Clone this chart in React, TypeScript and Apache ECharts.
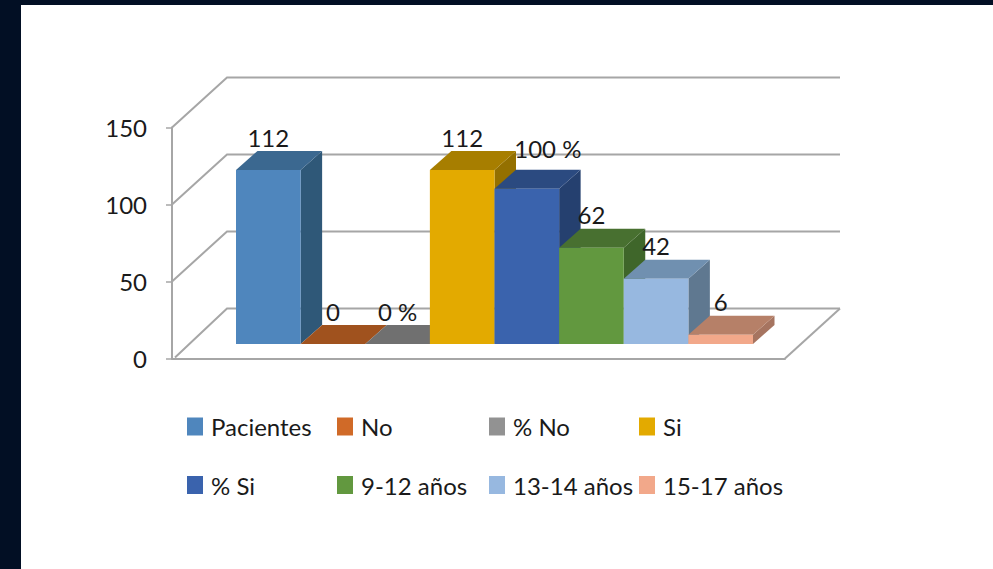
import React, { useEffect, useRef } from "react";
import * as echarts from "echarts";

const seriesNames = ["Pacientes", "No", "% No", "Si", "% Si", "9-12 años", "13-14 años", "15-17 años"];
const seriesValues = [112, 0, 0, 112, 100, 62, 42, 6];
const valueLabels = ["112", "0", "0 %", "112", "100 %", "62", "42", "6"];
const frontColors = ["#4F86BD", "#D06A28", "#929292", "#E3AA00", "#3A63AD", "#62983F", "#97B8E0", "#F2A88A"];
const topColors = ["#3B6890", "#A0521E", "#707070", "#A77E00", "#2B4A80", "#487030", "#7090B0", "#B68068"];
const sideColors = ["#2F5878", "#83441A", "#5C5C5C", "#947000", "#25406F", "#3F662A", "#5F7890", "#A67460"];
const yTicks = [0, 50, 100, 150];

const FONT = 'Lato, "Liberation Sans", sans-serif';
const LINE = "#A6A6A6";
const DEPTH_X = 21.5;
const DEPTH_Y = 19;
const WALL_X = 55;
const WALL_Y = 50;
const legendLeft = [187, 337, 489, 639];
const legendTop = [414.5, 473];

function renderFrame(params: any, api: any) {
  const v = api.value(0);
  const [, y] = api.coord([0, v]);
  const cs = params.coordSys;
  const children: any[] = [
    {
      type: "polyline",
      shape: {
        points: [
          [cs.x + (v === 0 ? 3 : 0), y - (v === 0 ? 1 : 0)],
          [cs.x + WALL_X, y - WALL_Y],
          [cs.x + cs.width + WALL_X, y - WALL_Y],
        ],
      },
      style: { stroke: LINE, lineWidth: 2, fill: "none" },
    },
  ];
  if (v === 0) {
    children.push({
      type: "line",
      shape: { x1: cs.x + cs.width + WALL_X, y1: y - WALL_Y, x2: cs.x + cs.width, y2: y },
      style: { stroke: LINE, lineWidth: 2 },
    });
  }
  return { type: "group", children };
}

function renderBar(index: number) {
  return (_params: any, api: any) => {
    const [cx, yTop] = api.coord([api.value(0), api.value(1)]);
    const [, yBase] = api.coord([api.value(0), 0]);
    const w = api.size([1, 0])[0];
    const x0 = cx - w / 2;
    const x1 = cx + w / 2;
    const children: any[] = [
      {
        type: "polygon",
        shape: { points: [[x1, yTop], [x1 + DEPTH_X, yTop - DEPTH_Y], [x1 + DEPTH_X, yBase - DEPTH_Y], [x1, yBase]] },
        style: { fill: sideColors[index] },
      },
      {
        type: "polygon",
        shape: { points: [[x0, yTop], [x0 + DEPTH_X, yTop - DEPTH_Y], [x1 + DEPTH_X, yTop - DEPTH_Y], [x1, yTop]] },
        style: { fill: topColors[index] },
      },
      {
        type: "rect",
        shape: { x: x0, y: yTop, width: w, height: yBase - yTop },
        style: { fill: frontColors[index] },
      },
      {
        type: "text",
        x: cx + (index === 4 ? 21 : 0),
        y: yTop - DEPTH_Y - (index === 4 ? 21 : 14),
        style: {
          text: valueLabels[index],
          fill: "#1A1A1A",
          font: `24px ${FONT}`,
          align: "center",
          verticalAlign: "middle",
        },
        z2: 100,
      },
    ];
    return { type: "group", children };
  };
}

export default function App() {
  const ref = useRef<HTMLDivElement>(null);
  useEffect(() => {
    const chart = echarts.init(ref.current!, undefined, { renderer: "svg" });
    chart.setOption({
      animation: false,
      backgroundColor: "#020F24",
      graphic: [
        {
          type: "rect",
          left: 21,
          top: 5,
          shape: { width: 972, height: 564 },
          style: { fill: "#FFFFFF" },
          z: 0,
        },
      ],
      grid: [
        { left: 172, top: 127.5, width: 613, height: 231 },
        { left: 236, top: 111, width: 517, height: 233 },
      ],
      xAxis: [
        {
          gridIndex: 0,
          type: "category",
          data: [""],
          axisLine: { show: true, lineStyle: { color: LINE, width: 2 } },
          axisTick: { show: false },
          axisLabel: { show: false },
        },
        {
          gridIndex: 1,
          type: "category",
          data: seriesNames,
          show: false,
        },
      ],
      yAxis: [
        {
          gridIndex: 0,
          type: "value",
          min: 0,
          max: 150,
          interval: 50,
          axisLine: { show: true, lineStyle: { color: LINE, width: 2 } },
          axisTick: { show: true, length: 6, lineStyle: { color: LINE, width: 1.5 } },
          axisLabel: { color: "#1A1A1A", fontFamily: FONT, fontSize: 24, margin: 25 },
          splitLine: { show: false },
        },
        {
          gridIndex: 1,
          type: "value",
          min: 0,
          max: 150,
          interval: 50,
          show: false,
          splitLine: { show: false },
        },
      ],
      legend: seriesNames.map((name, i) => ({
        data: [name],
        left: legendLeft[i % 4],
        top: legendTop[Math.floor(i / 4)],
        padding: 0,
        icon: "rect",
        itemWidth: 16,
        itemHeight: 18,
        selectedMode: false,
        textStyle: { color: "#1A1A1A", fontFamily: FONT, fontSize: 24, padding: [0, 0, 0, 3] },
      })),
      series: [
        {
          type: "custom",
          xAxisIndex: 0,
          yAxisIndex: 0,
          data: yTicks.map((v) => [v]),
          encode: { y: 0 },
          renderItem: renderFrame,
          silent: true,
          z: 1,
        },
        ...seriesNames.map((name, i) => ({
          type: "custom",
          name,
          xAxisIndex: 1,
          yAxisIndex: 1,
          data: [[name, seriesValues[i]]],
          encode: { x: 0, y: 1 },
          itemStyle: { color: frontColors[i] },
          renderItem: renderBar(i),
          z: 2 + i,
        })),
      ],
    });
    return () => chart.dispose();
  }, []);
  return <div ref={ref} style={{ position: "absolute", left: 0, top: 0, width: 993, height: 569 }} />;
}
